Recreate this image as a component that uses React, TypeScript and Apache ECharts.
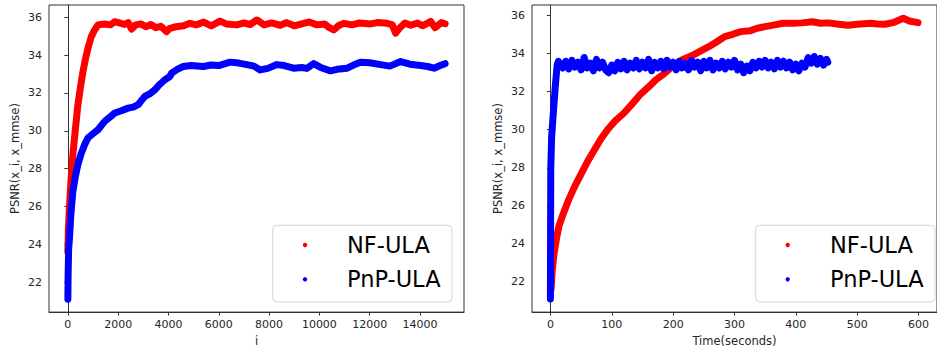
import React, { useEffect, useRef } from "react";
import * as echarts from "echarts";

// ---------- Left panel: PSNR vs iteration ----------
const iterTicks = [0, 2000, 4000, 6000, 8000, 10000, 12000, 14000];
const psnrTicks = [22, 24, 26, 28, 30, 32, 34, 36];

const nfIterX = [0, 20, 68, 130, 200, 300, 400, 500, 600, 700, 800, 933, 1050, 1200, 1465, 1700, 1860, 2050, 2250, 2400, 2530, 2700, 2900, 3100, 3300, 3500, 3700, 3925, 4057, 4300, 4600, 4854, 5100, 5400, 5700, 6050, 6300, 6717, 7000, 7250, 7515, 7800, 8100, 8444, 8700, 9000, 9374, 9600, 9900, 10200, 10400, 10570, 10750, 10969, 11300, 11600, 12034, 12300, 12700, 12900, 13032, 13200, 13400, 13630, 13900, 14100, 14428, 14600, 14694, 14850, 15000];
const nfIterY = [23.6, 24.8, 26.1, 27.5, 28.75, 30.1, 31.38, 32.3, 33.13, 33.8, 34.37, 34.98, 35.3, 35.6, 35.65, 35.6, 35.77, 35.7, 35.62, 35.72, 35.38, 35.6, 35.65, 35.5, 35.62, 35.45, 35.52, 35.24, 35.42, 35.5, 35.55, 35.68, 35.6, 35.75, 35.55, 35.8, 35.65, 35.6, 35.7, 35.62, 35.86, 35.6, 35.7, 35.58, 35.72, 35.55, 35.68, 35.75, 35.6, 35.65, 35.45, 35.33, 35.55, 35.68, 35.6, 35.7, 35.65, 35.72, 35.68, 35.6, 35.16, 35.45, 35.7, 35.58, 35.7, 35.55, 35.78, 35.45, 35.55, 35.72, 35.66];

const pnpIterX = [0, 10, 30, 68, 120, 200, 300, 400, 530, 666, 800, 1000, 1197, 1464, 1650, 1863, 2100, 2393, 2600, 2792, 3059, 3250, 3458, 3650, 3857, 4057, 4124, 4350, 4588, 4900, 5385, 5700, 6000, 6450, 6800, 7116, 7400, 7647, 7950, 8311, 8600, 8975, 9300, 9500, 9772, 10050, 10438, 10700, 11105, 11400, 11635, 12000, 12433, 12800, 13231, 13600, 14029, 14300, 14560, 14800, 15000];
const pnpIterY = [21.1, 22.4, 23.7, 24.4, 25.6, 26.81, 27.6, 28.22, 28.8, 29.27, 29.63, 29.85, 30.06, 30.5, 30.7, 30.94, 31.05, 31.2, 31.25, 31.38, 31.82, 31.95, 32.17, 32.45, 32.7, 32.87, 33.05, 33.25, 33.4, 33.45, 33.4, 33.48, 33.45, 33.63, 33.58, 33.5, 33.42, 33.22, 33.3, 33.5, 33.45, 33.31, 33.35, 33.3, 33.55, 33.35, 33.17, 33.25, 33.31, 33.5, 33.63, 33.6, 33.5, 33.42, 33.66, 33.52, 33.45, 33.4, 33.31, 33.45, 33.55];

// ---------- Right panel: PSNR vs time ----------
const timeTicks = [0, 100, 200, 300, 400, 500, 600];

const nfTimeX = [1, 3, 6, 10, 14, 20, 30, 40, 51, 60, 72, 82, 93, 105, 120, 133, 146, 160, 172, 183, 199, 215, 231, 245, 258, 270, 284, 297, 310, 325, 337, 350, 363, 379, 395, 410, 427, 440, 453, 470, 485, 500, 522, 533, 545, 560, 575, 585, 599];
const nfTimeY = [21.6, 22.6, 23.5, 24.3, 24.94, 25.5, 26.34, 27.05, 27.73, 28.3, 28.96, 29.5, 30.0, 30.45, 30.88, 31.35, 31.84, 32.25, 32.63, 32.89, 33.33, 33.68, 33.9, 34.15, 34.37, 34.6, 34.9, 35.02, 35.16, 35.2, 35.34, 35.42, 35.5, 35.6, 35.6, 35.62, 35.68, 35.6, 35.62, 35.55, 35.5, 35.55, 35.6, 35.56, 35.55, 35.65, 35.86, 35.72, 35.63];

const pnpTimeX = [0, 0.3, 0.6, 2, 5, 8, 11, 13, 15, 20, 25, 30, 35, 40, 45, 50, 55, 60, 65, 70, 75, 80, 85, 90, 95, 100, 105, 110, 115, 120, 125, 130, 135, 140, 145, 150, 155, 160, 165, 170, 175, 180, 185, 190, 195, 200, 205, 210, 215, 220, 225, 230, 235, 240, 245, 250, 255, 260, 265, 270, 275, 280, 285, 290, 295, 300, 305, 310, 315, 320, 325, 330, 335, 340, 345, 350, 355, 360, 365, 370, 375, 380, 385, 390, 395, 400, 405, 410, 415, 420, 425, 430, 435, 440, 445, 450, 452];
const pnpTimeY = [21.1, 25.0, 28.0, 29.6, 31.0, 32.3, 33.4, 33.6, 33.5, 33.25, 33.6, 33.2, 33.65, 33.3, 33.55, 33.15, 33.8, 33.25, 33.5, 33.1, 33.7, 33.25, 33.55, 33.15, 33.0, 33.4, 33.1, 33.55, 33.2, 33.6, 33.15, 33.5, 33.25, 33.65, 33.2, 33.55, 33.25, 33.7, 33.1, 33.55, 33.25, 33.6, 33.2, 33.65, 33.3, 33.55, 33.15, 33.6, 33.25, 33.5, 33.15, 33.65, 33.3, 33.55, 33.1, 33.6, 33.25, 33.65, 33.15, 33.5, 33.25, 33.6, 33.2, 33.55, 33.3, 33.65, 33.15, 33.45, 33.0, 33.35, 33.1, 33.55, 33.25, 33.6, 33.3, 33.65, 33.25, 33.55, 33.2, 33.65, 33.3, 33.6, 33.25, 33.55, 33.15, 33.45, 33.1, 33.5, 33.3, 33.8, 33.5, 33.85, 33.45, 33.75, 33.4, 33.7, 33.55];

const seriesNames = ["NF-ULA", "PnP-ULA"];
const seriesColors = ["#ff0000", "#0000ff"];

const FONT = "DejaVu Sans";

function zip(xs: number[], ys: number[]) {
  return xs.map((x, k) => [x, ys[k]]);
}

function makeX(gridIndex: number, min: number, max: number, ticks: number[], name: string, nameGap: number) {
  return {
    type: "value",
    gridIndex,
    min,
    max,
    name,
    nameLocation: "middle",
    nameGap,
    nameTextStyle: { fontSize: 11.5, color: "#262626", fontFamily: FONT },
    axisLine: { show: true, lineStyle: { color: "#333", width: 1 } },
    axisTick: { show: true, length: 3.5, inside: false, lineStyle: { color: "#333" }, customValues: ticks },
    axisLabel: {
      show: true,
      fontSize: 11,
      color: "#262626",
      fontFamily: FONT,
      margin: 7,
      customValues: ticks,
      formatter: (v: number) => String(v),
    },
    splitLine: { show: false },
  };
}

function makeY(gridIndex: number, min: number, max: number) {
  return {
    type: "value",
    gridIndex,
    min,
    max,
    name: "PSNR(x_i, x_mmse)",
    nameLocation: "middle",
    nameGap: 28,
    nameTextStyle: { fontSize: 11.5, color: "#262626", fontFamily: FONT },
    axisLine: { show: true, lineStyle: { color: "#333", width: 1 } },
    axisTick: { show: true, length: 3.5, inside: false, lineStyle: { color: "#333" }, customValues: psnrTicks },
    axisLabel: {
      show: true,
      fontSize: 11,
      color: "#262626",
      fontFamily: FONT,
      margin: 7,
      customValues: psnrTicks,
      formatter: (v: number) => String(v),
    },
    splitLine: { show: false },
  };
}

function lineSeries(name: string, color: string, axisIndex: number, data: number[][]) {
  return {
    type: "line",
    name,
    xAxisIndex: axisIndex,
    yAxisIndex: axisIndex,
    data,
    showSymbol: false,
    symbol: "none",
    color,
    lineStyle: { color, width: 7, cap: "round", join: "round" },
    emphasis: { disabled: true },
  };
}

// Legend frame + entries, matplotlib style
function legendGraphics(boxLeft: number, markerX: number, textX: number) {
  const rows = [245, 279.3];
  const items: any[] = [
    {
      type: "rect",
      z: 10,
      shape: { x: boxLeft, y: 225.3, width: 179.3, height: 76.7, r: 4 },
      style: { fill: "rgba(255,255,255,0.8)", stroke: "#d6d6d6", lineWidth: 1 },
    },
  ];
  seriesNames.forEach((name, k) => {
    items.push({
      type: "circle",
      z: 11,
      shape: { cx: markerX, cy: rows[k], r: 2.2 },
      style: { fill: seriesColors[k] },
    });
    items.push({
      type: "text",
      z: 11,
      x: textX,
      y: rows[k],
      style: {
        text: name,
        fontSize: 22.5,
        fontFamily: FONT,
        fill: "#000",
        verticalAlign: "middle",
        align: "left",
      },
    });
  });
  return items;
}

export default function App() {
  const ref = useRef<HTMLDivElement>(null);
  useEffect(() => {
    if (!ref.current) return;
    const chart = echarts.init(ref.current, undefined, { renderer: "svg" });
    chart.setOption({
      animation: false,
      backgroundColor: "#ffffff",
      textStyle: { fontFamily: FONT },
      grid: [
        { left: 49, top: 5, width: 415, height: 308, show: true, borderColor: "#333", borderWidth: 1, backgroundColor: "#fff" },
        { left: 532, top: 5, width: 416, height: 308, show: true, borderColor: "#333", borderWidth: 1, backgroundColor: "#fff" },
      ],
      xAxis: [
        makeX(0, -750, 15750, iterTicks, "i", 22),
        makeX(1, -30, 630, timeTicks, "Time(seconds)", 22),
      ],
      yAxis: [makeY(0, 20.42, 36.65), makeY(1, 20.41, 36.56)],
      graphic: [...legendGraphics(272.7, 305, 347), ...legendGraphics(755.7, 787.7, 830)],
      series: [
        lineSeries(seriesNames[0], seriesColors[0], 0, zip(nfIterX, nfIterY)),
        lineSeries(seriesNames[1], seriesColors[1], 0, zip(pnpIterX, pnpIterY)),
        lineSeries(seriesNames[0], seriesColors[0], 1, zip(nfTimeX, nfTimeY)),
        lineSeries(seriesNames[1], seriesColors[1], 1, zip(pnpTimeX, pnpTimeY)),
      ],
    });
    return () => chart.dispose();
  }, []);
  return (
    <div
      ref={ref}
      style={{ position: "fixed", left: 0, top: 0, width: 937, height: 352, background: "#fff" }}
    />
  );
}
